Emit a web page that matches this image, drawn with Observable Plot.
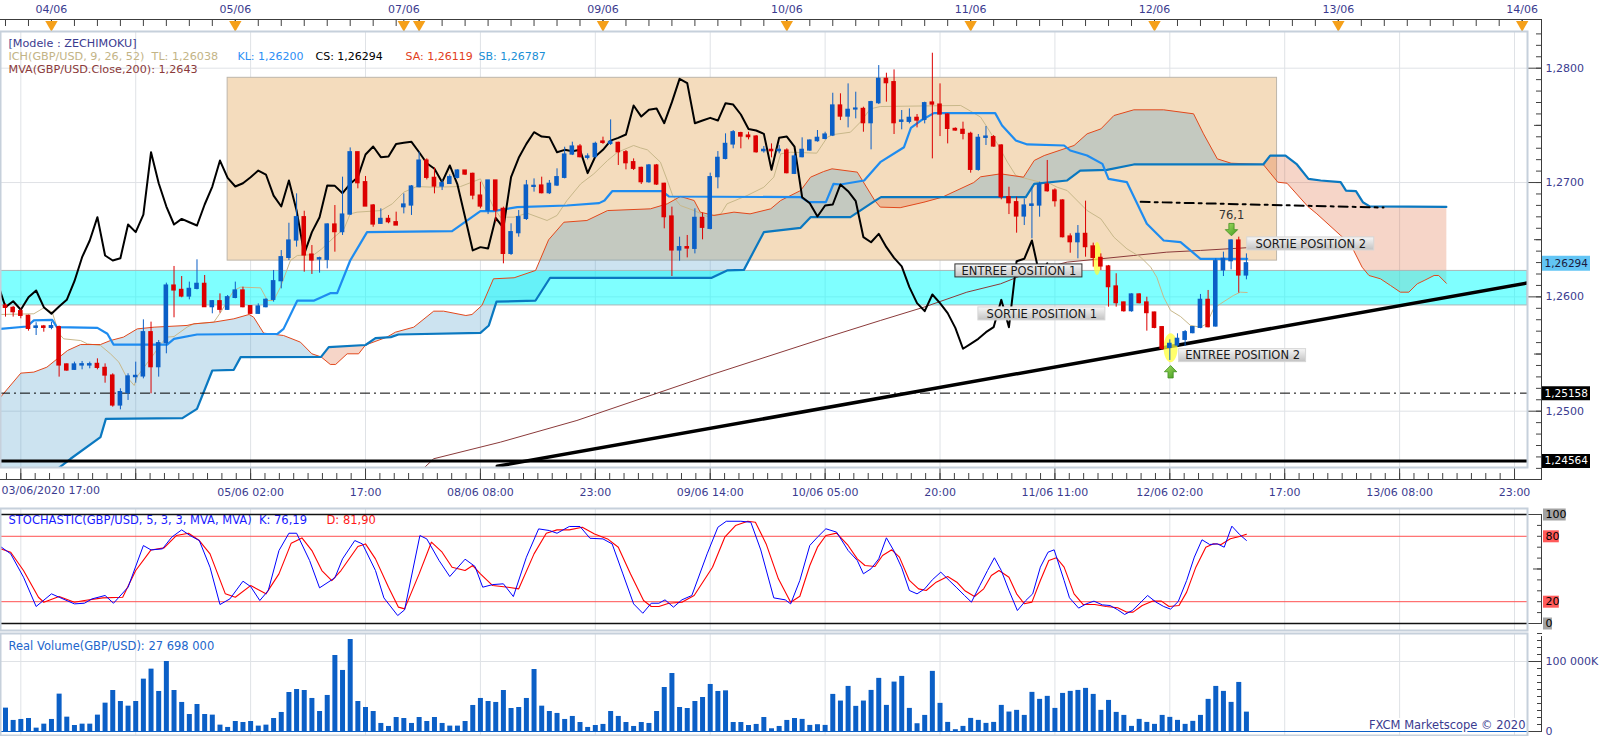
<!DOCTYPE html>
<html><head><meta charset="utf-8">
<script src="https://cdn.jsdelivr.net/npm/d3@7"></script>
<script src="https://cdn.jsdelivr.net/npm/@observablehq/plot@0.6"></script>
<style>
html,body{margin:0;padding:0;background:#fff;overflow:hidden}
#chart{position:relative;width:1599px;height:736px;background:#fff}
#chart svg{position:absolute;left:0}
.ln{position:absolute;background:#3c3c3c}
</style></head><body><div id="chart"></div>
<script>
// ---------------- DATA ----------------
const open = [1.25924,1.25904,1.25875,1.25834,1.25729,1.25741,1.25729,1.25735,1.25409,1.25362,1.25400,1.25400,1.25414,1.25379,1.25312,1.25050,1.25158,1.25298,1.25304,1.25691,1.25385,1.25595,1.26099,1.26061,1.26003,1.26070,1.26114,1.25910,1.25962,1.25887,1.25991,1.26056,1.25919,1.25852,1.25910,1.25974,1.26137,1.26341,1.26493,1.26697,1.26370,1.26327,1.26324,1.26633,1.26566,1.26720,1.27265,1.27003,1.26799,1.26639,1.26682,1.26653,1.26784,1.26799,1.26959,1.27192,1.27041,1.26965,1.26988,1.27041,1.27105,1.27076,1.26886,1.26755,1.27018,1.26770,1.26376,1.26557,1.26682,1.26962,1.26974,1.26907,1.26974,1.27041,1.27245,1.27315,1.27216,1.27222,1.27359,1.27338,1.27347,1.27265,1.27178,1.27128,1.27003,1.27149,1.26989,1.26703,1.26406,1.26435,1.26420,1.26691,1.26595,1.27047,1.27207,1.27333,1.27432,1.27411,1.27402,1.27274,1.27286,1.27274,1.27280,1.27076,1.27222,1.27280,1.27362,1.27382,1.27411,1.27674,1.27577,1.27639,1.27644,1.27519,1.27694,1.27907,1.27878,1.27531,1.27531,1.27566,1.27548,1.27700,1.27682,1.27595,1.27469,1.27461,1.27426,1.27111,1.27391,1.27397,1.27324,1.26872,1.26828,1.26703,1.26796,1.26799,1.26983,1.26930,1.26843,1.26528,1.26478,1.26551,1.26441,1.26341,1.26266,1.26091,1.25951,1.25875,1.26021,1.25951,1.25863,1.25735,1.25554,1.25575,1.25624,1.25683,1.25729,1.25974,1.25741,1.26231,1.26312,1.26493,1.26187];
const high = [1.25939,1.25916,1.25895,1.25840,1.25774,1.25750,1.25779,1.25744,1.25414,1.25429,1.25435,1.25429,1.25458,1.25414,1.25327,1.25196,1.25327,1.25429,1.25799,1.25779,1.25618,1.26120,1.26266,1.26178,1.26129,1.26324,1.26187,1.25968,1.26026,1.26012,1.26129,1.26085,1.25924,1.25939,1.25983,1.26231,1.26405,1.26644,1.26901,1.26749,1.26449,1.26347,1.26639,1.26799,1.27047,1.27303,1.27265,1.27053,1.26808,1.26770,1.26712,1.26741,1.26901,1.26974,1.27265,1.27207,1.27128,1.27018,1.27067,1.27111,1.27105,1.27082,1.27003,1.27018,1.27018,1.26785,1.26639,1.26755,1.27018,1.27032,1.27047,1.27018,1.27120,1.27309,1.27353,1.27333,1.27251,1.27353,1.27397,1.27548,1.27353,1.27280,1.27207,1.27134,1.27158,1.27158,1.26994,1.26785,1.26522,1.26537,1.26770,1.26732,1.27082,1.27271,1.27426,1.27455,1.27440,1.27440,1.27411,1.27315,1.27338,1.27324,1.27295,1.27251,1.27391,1.27373,1.27455,1.27440,1.27781,1.27776,1.27863,1.27790,1.27659,1.27711,1.28023,1.27956,1.27985,1.27630,1.27644,1.27595,1.27703,1.28131,1.27863,1.27601,1.27478,1.27528,1.27440,1.27420,1.27490,1.27411,1.27330,1.26959,1.26872,1.26857,1.26959,1.27003,1.27193,1.26945,1.26849,1.26551,1.26624,1.26837,1.26470,1.26376,1.26275,1.26202,1.25954,1.26027,1.26027,1.25997,1.25866,1.25741,1.25624,1.25677,1.25706,1.25741,1.26021,1.26056,1.26333,1.26391,1.26499,1.26522,1.26376];
const low = [1.25823,1.25823,1.25808,1.25700,1.25662,1.25691,1.25712,1.25298,1.25350,1.25356,1.25362,1.25371,1.25362,1.25245,1.25035,1.25012,1.25094,1.25245,1.25283,1.25152,1.25298,1.25502,1.25817,1.25992,1.25974,1.26061,1.25910,1.25852,1.25857,1.25881,1.25983,1.25904,1.25846,1.25846,1.25904,1.25954,1.26070,1.26318,1.26435,1.26216,1.26196,1.26207,1.26245,1.26391,1.26537,1.26712,1.26945,1.26790,1.26609,1.26633,1.26639,1.26624,1.26726,1.26712,1.26954,1.27023,1.26901,1.26930,1.26983,1.27032,1.27061,1.26849,1.26770,1.26720,1.26653,1.26289,1.26362,1.26522,1.26668,1.26916,1.26901,1.26895,1.26965,1.27032,1.27236,1.27216,1.27198,1.27216,1.27333,1.27324,1.27149,1.27111,1.27105,1.26983,1.26994,1.26974,1.26595,1.26178,1.26312,1.26341,1.26376,1.26499,1.26586,1.26945,1.27198,1.27295,1.27295,1.27373,1.27257,1.27257,1.27216,1.27251,1.27076,1.27070,1.27216,1.27274,1.27353,1.27373,1.27402,1.27542,1.27478,1.27557,1.27440,1.27286,1.27682,1.27703,1.27420,1.27461,1.27513,1.27478,1.27513,1.27207,1.27402,1.27338,1.27449,1.27373,1.27082,1.27099,1.27324,1.27309,1.26849,1.26720,1.26557,1.26624,1.26508,1.26697,1.26916,1.26785,1.26516,1.26382,1.26333,1.26347,1.26260,1.26231,1.25910,1.25910,1.25866,1.25866,1.25939,1.25700,1.25721,1.25531,1.25444,1.25560,1.25566,1.25677,1.25721,1.25729,1.25735,1.26178,1.26236,1.26033,1.26149];
const close = [1.25904,1.25866,1.25834,1.25720,1.25741,1.25729,1.25744,1.25400,1.25356,1.25409,1.25411,1.25411,1.25379,1.25312,1.25050,1.25167,1.25304,1.25309,1.25691,1.25385,1.25595,1.26099,1.26056,1.26003,1.26070,1.26114,1.25910,1.25962,1.25887,1.25997,1.26056,1.25910,1.25852,1.25916,1.25974,1.26137,1.26347,1.26493,1.26697,1.26362,1.26318,1.26338,1.26633,1.26566,1.26720,1.27265,1.26994,1.26790,1.26633,1.26682,1.26653,1.26624,1.26808,1.26965,1.27192,1.27041,1.26965,1.26994,1.27047,1.27105,1.27070,1.26886,1.26790,1.27018,1.26755,1.26376,1.26566,1.26697,1.26974,1.26971,1.26907,1.26989,1.27047,1.27245,1.27315,1.27222,1.27228,1.27338,1.27347,1.27356,1.27265,1.27169,1.27120,1.27003,1.27149,1.26983,1.26697,1.26406,1.26435,1.26423,1.26691,1.26604,1.27047,1.27216,1.27338,1.27440,1.27402,1.27397,1.27265,1.27286,1.27274,1.27286,1.27082,1.27228,1.27286,1.27367,1.27391,1.27420,1.27674,1.27577,1.27636,1.27647,1.27519,1.27703,1.27907,1.27869,1.27519,1.27542,1.27566,1.27542,1.27694,1.27682,1.27595,1.27469,1.27455,1.27426,1.27111,1.27391,1.27402,1.27315,1.26872,1.26819,1.26703,1.26799,1.26808,1.26983,1.26924,1.26837,1.26522,1.26478,1.26551,1.26435,1.26341,1.26266,1.26085,1.25945,1.25875,1.26021,1.25945,1.25858,1.25729,1.25546,1.25589,1.25633,1.25691,1.25735,1.25974,1.25735,1.26312,1.26333,1.26493,1.26187,1.26294];
// real volume, in K
const volume = [33400,15800,17200,18600,4800,10500,17200,53400,20500,8600,10500,10500,23400,40500,58600,42900,36200,42900,74800,89100,57200,100000,58600,41500,24300,38600,24300,23400,9100,5800,14300,12900,14300,7700,9100,18600,27200,55700,60000,58600,47200,28600,51500,108600,87200,131400,42900,34300,28600,11500,7200,20000,18600,11500,20000,14300,20000,11500,7700,7700,14300,37200,47200,42900,41500,58600,32900,34300,47200,88600,36200,28600,25800,17200,21500,12900,5800,8600,10100,28600,21500,12900,7200,12900,11500,28600,62900,82900,34300,32900,42900,48600,67200,57200,58100,12900,12900,8600,10100,20000,3900,7200,15800,18600,17300,8700,9700,8700,53000,43500,64400,35900,43500,58700,75900,37300,70600,78700,33000,11100,23000,85900,40200,13000,2600,7300,18700,15900,11600,13000,37300,27800,30200,23000,55900,45900,50200,33000,54400,57300,58700,61600,53000,30200,44400,27300,23000,7300,17300,13000,10200,23000,20200,15900,10200,14500,23000,45900,64400,57300,41600,70100,27698];
// Ichimoku lines as [bar, price] vertices
const kijun = [[-0.65,1.25720],[2.8,1.25741],[3.7,1.25794],[6.1,1.25799],[6.7,1.25735],[12,1.25729],[13.3,1.25677],[14.1,1.25583],[21.1,1.25583],[22,1.25633],[25,1.25671],[35.5,1.25677],[36.3,1.25720],[38.1,1.25968],[40.3,1.25968],[42.4,1.26032],[43.3,1.26032],[45,1.26318],[47.2,1.26566],[58.3,1.26575],[62,1.26750],[63.7,1.26750],[66.8,1.26785],[73.3,1.26799],[77.5,1.26820],[78.2,1.26843],[79.2,1.26924],[85.7,1.26924],[86.6,1.26878],[103.8,1.26872],[104.9,1.26828],[107.1,1.26828],[108.1,1.26989],[109,1.26983],[112.1,1.27018],[114.2,1.27178],[117.3,1.27309],[118.2,1.27478],[119.5,1.27542],[121.2,1.27607],[129.2,1.27607],[130.1,1.27499],[131.9,1.27367],[133.4,1.27333],[138.2,1.27324],[139,1.27280],[141.2,1.27236],[143.2,1.27163],[144,1.27032],[146.4,1.27003],[149,1.26639],[151.2,1.26493],[153.4,1.26478],[156,1.26333],[162.1,1.26333]];
const tenkan = [[-0.65,1.25846],[3.7,1.25852],[5,1.25904],[6.1,1.25866],[7,1.25677],[7.6,1.25633],[9.8,1.25618],[10.7,1.25589],[12.4,1.25575],[13.7,1.25502],[14.8,1.25429],[15.7,1.25312],[16.8,1.25225],[17.2,1.25304],[18.1,1.25385],[19.4,1.25502],[20.2,1.25583],[21.1,1.25648],[22,1.25653],[23.7,1.25735],[24.6,1.25764],[27.2,1.25779],[28.1,1.25866],[29.8,1.26056],[30.7,1.26085],[33.3,1.26079],[34.2,1.25968],[35,1.25968],[35.9,1.26085],[37.2,1.26318],[38.1,1.26362],[40.3,1.26370],[41.3,1.26420],[42.9,1.26522],[44.2,1.26595],[45,1.26726],[45.9,1.26741],[49,1.26755],[50.5,1.26814],[52,1.26916],[53.7,1.26965],[55.9,1.26959],[59.4,1.26965],[62,1.27032],[63.7,1.26785],[64.6,1.26697],[66.4,1.26697],[68.1,1.26732],[70.7,1.26668],[72,1.26712],[73.3,1.26843],[75.1,1.26989],[76.8,1.27076],[78.6,1.27193],[79.9,1.27265],[82,1.27324],[82.9,1.27303],[83.8,1.27286],[85.5,1.27178],[86.4,1.27018],[87.1,1.26886],[88.1,1.26799],[89.9,1.26755],[91.6,1.26703],[93.4,1.26726],[94.2,1.26814],[96.8,1.26886],[99,1.26959],[100.3,1.27047],[101.2,1.27251],[102.5,1.27265],[105.9,1.27257],[107.3,1.27397],[108.1,1.27420],[110.3,1.27440],[111.6,1.27528],[112.9,1.27644],[114.2,1.27665],[124.7,1.27674],[126,1.27624],[127.3,1.27572],[128.2,1.27478],[129.5,1.27338],[130.8,1.27178],[131.9,1.27061],[133.4,1.27032],[135.1,1.27003],[136.4,1.26989],[137.3,1.26959],[138.6,1.26930],[141.2,1.26755],[143,1.26682],[144.7,1.26522],[146.4,1.26420],[148.2,1.26347],[149.5,1.26260],[150.3,1.26172],[151.2,1.25997],[152.1,1.25881],[153.4,1.25828],[154.7,1.25750],[156,1.25735],[156.8,1.25764],[157.7,1.25895],[158.6,1.25939],[160.3,1.26012],[161.2,1.26041],[162.1,1.26038]];
const senkouA = [[-0.65,1.25123],[2,1.25333],[3.7,1.25342],[5.4,1.25385],[8.1,1.25531],[9.8,1.25583],[12.4,1.25583],[13.7,1.25618],[15.4,1.25648],[17.2,1.25720],[19.4,1.25735],[23.7,1.25750],[24.6,1.25764],[27.2,1.25779],[29.8,1.25808],[31.8,1.25846],[32.4,1.25822],[33.7,1.25683],[36.3,1.25662],[38.5,1.25604],[40,1.25502],[41.2,1.25475],[42.4,1.25409],[43.1,1.25409],[44.6,1.25502],[46.1,1.25502],[47.0,1.25579],[49.8,1.25648],[50.9,1.25691],[53.3,1.25735],[55.9,1.25875],[57.2,1.25875],[60.1,1.25837],[60.9,1.25846],[62.2,1.25925],[63.7,1.26158],[66.4,1.26167],[69.2,1.26231],[70.9,1.26499],[72.9,1.26653],[75.9,1.26668],[78.6,1.26755],[84.2,1.26770],[86.4,1.26814],[88.1,1.26878],[89.9,1.26843],[90.7,1.26741],[92.5,1.26712],[95.1,1.26741],[97.2,1.26726],[99.9,1.26770],[101.2,1.26843],[103.8,1.26930],[105.1,1.27047],[106.8,1.27096],[107.9,1.27120],[111.2,1.27091],[113.5,1.26840],[114.2,1.26785],[116.8,1.26780],[119.9,1.26828],[122.3,1.26872],[126.4,1.27000],[127.3,1.27050],[129.9,1.27076],[132.9,1.27047],[134.3,1.27193],[135.6,1.27236],[139.5,1.27324],[141.2,1.27426],[143,1.27469],[144.7,1.27586],[147.3,1.27636],[151.2,1.27636],[155.1,1.27601],[156.4,1.27426],[158.2,1.27207],[160,1.27169],[164.2,1.27158],[166.1,1.27003],[167.3,1.26994],[170,1.26792],[171.2,1.26726],[174.3,1.26537],[175.6,1.26460],[176,1.26406],[177.1,1.26260],[178,1.26187],[179.5,1.26158],[180.8,1.26100],[182.1,1.26041],[183.2,1.26041],[184.3,1.26114],[185.2,1.26143],[186.5,1.26187],[187.1,1.26187],[188.1,1.26119]];
const senkouB = [[-0.65,1.24250],[6.5,1.24480],[8.5,1.24584],[12.4,1.24773],[13.1,1.24933],[23.1,1.24939],[25,1.25021],[27,1.25356],[29.8,1.25362],[30.7,1.25473],[41.2,1.25475],[42.2,1.25560],[47.0,1.25579],[48.3,1.25639],[50.3,1.25648],[51.3,1.25671],[62,1.25685],[63.1,1.25750],[64.1,1.25958],[69.2,1.25968],[71.1,1.26167],[92.2,1.26167],[94.2,1.26231],[96.4,1.26236],[99,1.26566],[103.8,1.26604],[105.1,1.26697],[110.3,1.26697],[113.5,1.26840],[114.3,1.26872],[122.3,1.26872],[133.2,1.26872],[134.3,1.26989],[138.6,1.27018],[140.3,1.27105],[143.8,1.27111],[147.3,1.27158],[164.2,1.27158],[165.1,1.27236],[167.1,1.27236],[168.6,1.27158],[170.1,1.27032],[171.7,1.27018],[174.3,1.27003],[175,1.26930],[176.3,1.26925],[177.2,1.26828],[178.1,1.26791],[188.1,1.26787]];
// bars where Senkou A and B cross (cloud colour flips)
const cloudTurns = [-0.65, 41.2, 47.0, 113.5, 122.3, 164.2, 188.1];
const mva200 = [[53,1.24400],[55.9,1.24584],[64.6,1.24729],[74.6,1.24919],[92.5,1.25327],[107.3,1.25648],[114.2,1.25793],[119.9,1.25910],[125.5,1.26041],[129.9,1.26114],[134.3,1.26231],[138.6,1.26304],[143,1.26333],[147.3,1.26362],[151.6,1.26391],[156,1.26406],[162.1,1.26430]];
const chikouShift = 26;
// drawings
const trendLine = [[64.2,1.24519],[198.7,1.26122]];
const resistLine = [[148.2,1.26831],[179.9,1.26781]];
const levels = [1.25158, 1.24564];
const lastPrice = [1.26294];
const zone = [{from: 29, to: 166, low: 1.26317, high: 1.27916}];
const band = [{low: 1.25925, high: 1.26227}];
const notes = [
  {label: "ENTREE POSITION 1", i: 132.3, price: 1.26227},
  {label: "SORTIE POSITION 1", i: 135.3, price: 1.25851},
  {label: "ENTREE POSITION 2", i: 161.5, price: 1.25486},
  {label: "SORTIE POSITION 2", i: 170.4, price: 1.26463}
];
const fiboNote = [{label: "76,1", i: 160.05, price: 1.26709}];
const arrowsDown = [{i: 160.05, price: 1.26588}];
const arrowsUp = [{i: 152.1, price: 1.25345}];
const highlightA = [{i: 142.5, price: 1.26336}];
const highlightB = [{i: 152.1, price: 1.25555}];
// stochastic K and D as [bar, value] vertices
const stochK = [[-0.65,70.6],[0.68,63.9],[2.35,42.5],[4.0,15.6],[6.0,27.2],[7.0,24.1],[9.0,18.0],[10.3,18.6],[11.3,22.6],[13,25.7],[14.1,18.6],[16,33.3],[18,71.5],[19,67.5],[20.5,68.5],[21.7,79.2],[23,85.9],[24.1,80.7],[25.3,76.1],[26.7,51.6],[28,17.4],[29.3,22.6],[31,38.8],[32,33.9],[33.2,21.1],[34.3,30.2],[35.7,66.9],[37,82.8],[38,82.8],[39.7,57.8],[41,32.7],[43,41.9],[44,59.3],[45.6,76.1],[46.6,73.0],[48.3,48.6],[49.4,23.5],[51.2,7.3],[52.1,12.5],[54.1,80.7],[55,77.6],[56.6,57.8],[58,43.1],[60,59],[61.3,52.3],[62.3,33.3],[63.6,35.7],[65,36.4],[66.3,24.7],[68,60.8],[69.6,86.8],[71,85.3],[72,82.8],[73.6,89],[75,89],[76.3,78.2],[78,77.6],[79.2,73],[80.6,45.5],[82,18],[83.2,9.4],[84.3,18.6],[85.3,18.6],[86.1,21.7],[87.2,15],[88.3,21.7],[89.6,25.7],[91.6,63.9],[93,88.3],[94.1,93.8],[96,93.8],[97.3,92.9],[98.6,67.5],[100.3,23.5],[101.8,21.7],[102.5,18],[103.7,39.5],[105,71.6],[106,79.2],[107.1,86.9],[108.5,83.8],[110,67],[111.2,57.8],[112,45.6],[113,50.2],[114,59.3],[115,78.6],[116,66.4],[117,51.1],[118,30.3],[119,27.2],[120,31.8],[121,40.1],[122.1,47.1],[123.2,39.5],[124.2,32.7],[125.2,25.7],[126.1,19.6],[127.2,34.9],[128.2,48.6],[129.1,60.3],[130,48.6],[131,30.3],[132.1,11.9],[133.2,21.1],[134.1,27.2],[135.1,51.7],[136.1,65.4],[136.9,67.6],[138.2,39.5],[138.9,23.6],[140.1,14.1],[141.1,18.1],[142.1,20.5],[143.2,17.1],[144.2,16.5],[145.2,12.6],[146.1,8.3],[147.1,11.9],[148.1,18.7],[149.1,25.7],[150.2,19.6],[151.2,15.6],[152.1,13.2],[153.1,20.2],[154.2,39.5],[155.2,60.9],[156.2,76.8],[157.2,72.5],[158.2,73.1],[159.1,70],[160.1,89.3],[161.1,81.7],[162,76.19]];
const stochD = [[-0.65,68.5],[0.68,65.4],[2.35,48.6],[4.3,24.1],[5,19.5],[7,24.7],[9,19.5],[10.3,21.1],[12.7,23.5],[15.3,24.1],[17,48.6],[19,67.5],[20.7,69.4],[22.3,80.7],[23.9,82.8],[25.3,76.1],[26.7,63.9],[28.7,27.2],[30,24.1],[32,34.8],[34,27.2],[35.7,45.5],[37.3,73.7],[38.7,78.5],[40,66.9],[41.3,48.6],[42.6,39.4],[43.8,48.6],[46,70.6],[47,73],[48.3,59.3],[50,33.3],[51.3,15],[52.1,13.4],[54,45.5],[55.6,74.6],[57,65.4],[58.3,51.6],[60,48.6],[61,53.2],[62,45.5],[63.6,34.8],[65.6,33.3],[67,31.8],[69,63.9],[70.6,82.8],[72,85.9],[73.6,85.9],[75.3,88.3],[76.9,82.2],[78.6,77.6],[80,70],[81.6,45.5],[83.3,21.1],[84.3,15.6],[85.3,15.6],[86.6,18.6],[88.3,19.5],[89.9,25.7],[92.3,51.6],[93.9,79.2],[95.3,89.9],[96.9,93.8],[97.9,92.9],[99.3,73],[100.9,41],[102.5,19.5],[103.7,25],[105,53.2],[106,70],[107.1,80.7],[108.5,82.9],[110,71.6],[111.2,59.3],[112.2,53.2],[113.5,52.3],[114.5,62.4],[115.7,67.6],[116.7,60.9],[118,39.5],[119.2,31.8],[120.2,30.3],[121.5,37.9],[123,43.1],[124.2,37.9],[125.2,30.3],[126.5,24.8],[127.7,31.8],[128.7,44.0],[129.7,48.6],[131,42.5],[132,27.2],[133,18.1],[134,19.6],[135.1,39.5],[136.2,57.8],[137.2,60.3],[138.2,51.7],[139.5,27.2],[140.7,17.4],[142.2,17.4],[143.7,15.6],[145.2,14.4],[146.4,10.4],[147.2,10.4],[148.4,16.5],[149.7,20.5],[150.9,20.5],[151.9,15.6],[153.2,16.5],[154.2,28.8],[155.4,51.7],[156.7,70],[157.7,73.1],[158.7,72.5],[159.9,77.7],[161.1,79.8],[162,81.9]];
const stochLevels = [100, 80, 20, 0];
// axis labels
const dayTicks = [6, 30, 52, 54, 78, 102, 126, 150, 174, 198];
const dayLabels = ["04/06", "05/06", "07/06", "", "09/06", "10/06", "11/06", "12/06", "13/06", "14/06"];
const timeTicks = [2, 17, 32, 47, 62, 77, 92, 107, 122, 137, 152, 167, 182, 197];
const timeLabels = ["", "", "05/06 02:00", "17:00", "08/06 08:00", "23:00", "09/06 14:00", "10/06 05:00", "20:00", "11/06 11:00", "12/06 02:00", "17:00", "13/06 08:00", "23:00"];
const firstTimeLabel = "03/06/2020 17:00";
const priceTicks = [1.25, 1.26, 1.27, 1.28];

// ---------------- STYLE / LAYOUT ----------------
const W = 1599, MR = 72;
const xDomain = [-0.6527, 198.695];
const xs = () => ({type: "linear", domain: xDomain, axis: null});
const GRID = "#dfe2e6", FRAME = "#c6d0db", TICK = "#404040", TXT = "#3b3b8f";
const BLUE = "#0b5fc6", RED = "#dc0000";
const baseStyle = {fontFamily: "DejaVu Sans, Verdana, sans-serif", fontSize: "11px", color: TXT, background: "transparent", overflow: "visible"};
const fmtP = (d, n) => d.toFixed(n).replace(".", ",");
const xy = {x: d => d[0], y: d => d[1]};

const candles = open.map((o, i) => ({i, open: o, high: high[i], low: low[i], close: close[i]}));
const bull = candles.filter(d => d.close >= d.open);
const bear = candles.filter(d => d.close < d.open);
const chikou = close.map((c, k) => [k - chikouShift, c]).filter(d => d[0] >= -2);

const cloudMarks = [];
for (let k = 0; k < cloudTurns.length - 1; k++) {
  const a = cloudTurns[k] - 1e-9, b = cloudTurns[k + 1] + 1e-9;
  const top = senkouA.filter(d => d[0] >= a && d[0] <= b);
  const bot = senkouB.filter(d => d[0] >= a && d[0] <= b).reverse();
  const bearish = k % 2 === 1;
  cloudMarks.push(Plot.line(top.concat(bot), {...xy, fill: bearish ? "rgb(220,88,36)" : "rgb(66,152,200)", fillOpacity: bearish ? 0.25 : 0.27, stroke: "none", clip: true}));
}

const arrowSym = dir => ({draw(ctx, size) {
  const s = Math.sqrt(size) / 2, sw = s * 0.42;
  ctx.moveTo(-sw, -s * dir); ctx.lineTo(sw, -s * dir); ctx.lineTo(sw, 0);
  ctx.lineTo(s, 0); ctx.lineTo(0, s * dir); ctx.lineTo(-s, 0); ctx.lineTo(-sw, 0); ctx.closePath();
}});
const ellipseSym = (rx, ry) => ({draw(ctx) {
  const k = 0.5523;
  ctx.moveTo(rx, 0);
  ctx.bezierCurveTo(rx, ry * k, rx * k, ry, 0, ry);
  ctx.bezierCurveTo(-rx * k, ry, -rx, ry * k, -rx, 0);
  ctx.bezierCurveTo(-rx, -ry * k, -rx * k, -ry, 0, -ry);
  ctx.bezierCurveTo(rx * k, -ry, rx, -ry * k, rx, 0);
  ctx.closePath();
}});

const minorPrice = d3.range(1245, 1284).map(k => k / 1000);
const halfPrice = [1.255, 1.265, 1.275];
const top3 = d3.range(0, 199, 3);
const minorTime = d3.range(-1, 106).map(k => 2 + k * 1.875).filter(v => v >= xDomain[0] && v <= xDomain[1]);
const boxLabel = {x1: "i", x2: "i", y1: "price", y2: "price", insetLeft: -63.5, insetRight: -63.5, insetTop: -6.5, insetBottom: -6.5};
const legendLine = (text, dx, dy, fill, fontSize = 11.5) => Plot.text([text], {frameAnchor: "top-left", dx, dy, textAnchor: "start", fill, fontSize});

// ---------------- PRICE PANEL ----------------
const price = Plot.plot({
  width: W, height: 505, marginLeft: 0, marginRight: MR, marginTop: 31, marginBottom: 38,
  x: xs(), y: {domain: [1.245076, 1.28321], axis: null},
  style: baseStyle,
  marks: [
    Plot.ruleX(timeTicks, {stroke: GRID}),
    Plot.ruleY(priceTicks, {stroke: GRID}),
    Plot.rect(zone, {x1: "from", x2: "to", y1: "low", y2: "high", fill: "#f4dcbd", stroke: "#bdb6ab"}),
    ...cloudMarks,
    Plot.rect(band, {x1: () => xDomain[0], x2: () => xDomain[1], y1: "low", y2: "high", fill: "#00ffff", fillOpacity: 0.5, stroke: "#aab6b8"}),
    Plot.line(mva200, {...xy, stroke: "#8b3a3a", strokeWidth: 1, clip: true}),
    Plot.line(tenkan, {...xy, stroke: "#c8b88a", strokeWidth: 1, clip: true}),
    Plot.line(senkouA, {...xy, stroke: "#e2481c", strokeWidth: 1, clip: true}),
    Plot.line(senkouB, {...xy, stroke: "#0a78c0", strokeWidth: 2.2, clip: true}),
    Plot.line(kijun, {...xy, stroke: "#1e8cf0", strokeWidth: 2.2, clip: true}),
    Plot.ruleY([levels[1]], {stroke: "#000", strokeWidth: 3}),
    Plot.ruleY([levels[0]], {stroke: "#000", strokeWidth: 1, strokeDasharray: "10,4,2,4"}),
    Plot.line(resistLine, {...xy, stroke: "#000", strokeWidth: 2, strokeDasharray: "9,5,3,5"}),
    Plot.line(trendLine, {...xy, stroke: "#000", strokeWidth: 3.5, clip: true}),
    Plot.line(chikou, {...xy, stroke: "#000", strokeWidth: 2, clip: true}),
    Plot.dot(highlightA, {x: "i", y: "price", symbol: ellipseSym(4, 16.5), fill: "#ffff3a", fillOpacity: 0.75, stroke: "none"}),
    Plot.dot(highlightB, {x: "i", y: "price", symbol: ellipseSym(7, 14.5), fill: "#ffff3a", fillOpacity: 0.75, stroke: "none"}),
    Plot.ruleX(bull, {x: "i", y1: "low", y2: "high", stroke: BLUE, strokeWidth: 1}),
    Plot.ruleX(bear, {x: "i", y1: "low", y2: "high", stroke: RED, strokeWidth: 1}),
    Plot.rect(bull, {x1: d => d.i - 0.3, x2: d => d.i + 0.3, y1: "open", y2: "close", fill: BLUE, insetTop: -0.6, insetBottom: -0.6}),
    Plot.rect(bear, {x1: d => d.i - 0.3, x2: d => d.i + 0.3, y1: "open", y2: "close", fill: RED, insetTop: -0.6, insetBottom: -0.6}),
    // annotations
    Plot.rect(notes.slice(0, 1), {...boxLabel, fill: "url(#lblgrad)", stroke: "#303030"}),
    Plot.rect(notes.slice(1), {...boxLabel, fill: "url(#lblgrad)", stroke: "#d6d6d6"}),
    Plot.text(notes, {x: "i", y: "price", text: "label", fill: "#1a1a1a", fontSize: 11.5}),
    Plot.text(fiboNote, {x: "i", y: "price", text: "label", fill: "#333", fontSize: 11.5}),
    Plot.dot(arrowsDown, {x: "i", y: "price", symbol: arrowSym(1), r: 7, fill: "url(#arrgrad)", stroke: "#3f8f1f", strokeWidth: 0.8}),
    Plot.dot(arrowsUp, {x: "i", y: "price", symbol: arrowSym(-1), r: 7, fill: "url(#arrgrad)", stroke: "#3f8f1f", strokeWidth: 0.8}),
    // legend
    legendLine("[Modele : ZECHIMOKU]", 8, 8, "#3b3b8f", 11.2),
    legendLine("ICH(GBP/USD, 9, 26, 52)  TL: 1,26038", 8, 21, "#c3b486", 11.2),
    legendLine("KL: 1,26200", 237, 21, "#2b8ef5", 11),
    legendLine("CS: 1,26294", 315, 21, "#000", 11),
    legendLine("SA: 1,26119", 405, 21, "#e2401c", 11),
    legendLine("SB: 1,26787", 478, 21, "#1a8fd6", 11),
    legendLine("MVA(GBP/USD.Close,200): 1,2643", 8, 34, "#8b3a3a", 11.2),
    // right price axis
    Plot.axisY({anchor: "right", ticks: priceTicks, tickSize: 14, tickPadding: 4, tickFormat: d => fmtP(d, 4), stroke: TICK, fill: TXT, fontSize: 11}),
    Plot.axisY({anchor: "right", ticks: halfPrice, tickSize: 8, dx: 6, tickFormat: () => "", stroke: TICK}),
    Plot.axisY({anchor: "right", ticks: minorPrice, tickSize: 6, dx: 8, tickFormat: () => "", stroke: TICK}),
    Plot.ruleY(lastPrice, {insetLeft: 1542, insetRight: -63, stroke: "#62c5f5", strokeWidth: 15}),
    Plot.text(lastPrice, {y: d => d, text: d => fmtP(d, 5), frameAnchor: "right", dx: 17, textAnchor: "start", fill: "#1a1a40", fontSize: 10.5}),
    Plot.ruleY(levels, {insetLeft: 1542, insetRight: -63, stroke: "#000", strokeWidth: 14}),
    Plot.text(levels, {y: d => d, text: d => fmtP(d, 5), frameAnchor: "right", dx: 17, textAnchor: "start", fill: "#fff", fontSize: 10.5}),
    // top date axis
    Plot.axisX({anchor: "top", ticks: top3, tickSize: 6, dy: -6, tickFormat: () => "", stroke: TICK}),
    Plot.axisX({anchor: "top", ticks: dayTicks, tickSize: 12, tickPadding: 7, tickFormat: d => dayLabels[dayTicks.indexOf(d)], stroke: TICK, fill: TXT, fontSize: 11}),
    Plot.dot(dayTicks, {x: d => d, frameAnchor: "top", dy: -7, symbol: "triangle", r: 4.6, fill: "#f5a01a", rotate: 180}),
    // bottom time axis
    Plot.axisX({anchor: "bottom", ticks: minorTime, tickSize: 6, dy: 6, tickFormat: () => "", stroke: TICK}),
    Plot.axisX({anchor: "bottom", ticks: timeTicks, tickSize: 12, tickPadding: 9, tickFormat: d => timeLabels[timeTicks.indexOf(d)], stroke: TICK, fill: TXT, fontSize: 11}),
    Plot.text([firstTimeLabel], {frameAnchor: "bottom-left", dx: 1, dy: 26, textAnchor: "start", fill: TXT, fontSize: 11}),
    Plot.frame({stroke: FRAME, strokeWidth: 2})
  ]
});

// ---------------- STOCHASTIC PANEL ----------------
const stoch = Plot.plot({
  width: W, height: 127, marginLeft: 0, marginRight: MR, marginTop: 3, marginBottom: 2,
  x: xs(), y: {domain: [-6.42, 105.5], axis: null},
  style: baseStyle,
  marks: [
    Plot.ruleX(timeTicks, {stroke: GRID}),
    Plot.ruleY([80, 20], {stroke: "#ff5050", strokeWidth: 1}),
    Plot.line(stochD, {...xy, stroke: "#ff0000", strokeWidth: 1.1}),
    Plot.line(stochK, {...xy, stroke: "#0000ff", strokeWidth: 1}),
    Plot.text(["STOCHASTIC(GBP/USD, 5, 3, 3, MVA, MVA)  K: 76,19"], {frameAnchor: "top-left", dx: 8, dy: 7, textAnchor: "start", fill: "#1a1aff", fontSize: 11.5}),
    Plot.text(["D: 81,90"], {frameAnchor: "top-left", dx: 326, dy: 7, textAnchor: "start", fill: "#ff1a1a", fontSize: 11.5}),
    Plot.ruleY([100, 0], {stroke: "#111", strokeWidth: 1.3}),
    Plot.axisY({anchor: "right", ticks: [0, 100], tickSize: 14, tickFormat: () => "", stroke: TICK}),
    Plot.axisY({anchor: "right", ticks: [50], tickSize: 9, dx: 5, tickFormat: () => "", stroke: TICK}),
    Plot.axisY({anchor: "right", ticks: d3.range(10, 100, 10), tickSize: 5, dx: 9, tickFormat: () => "", stroke: TICK}),
    ...stochLevels.map(v => Plot.ruleY([v], {insetLeft: 1543, insetRight: -(18 + String(v).length * 6.9), stroke: (v === 0 || v === 100) ? "#a2a2a2" : "#ff5a5a", strokeWidth: 12})),
    Plot.text(stochLevels, {y: d => d, text: d => String(d), frameAnchor: "right", dx: 18, textAnchor: "start", fill: "#000", fontSize: 11}),
    Plot.frame({stroke: FRAME, strokeWidth: 2})
  ]
});

// ---------------- VOLUME PANEL ----------------
const vol = Plot.plot({
  width: W, height: 104, marginLeft: 0, marginRight: MR, marginTop: 1, marginBottom: 1,
  x: xs(), y: {domain: [-5714, 140000], axis: null},
  style: baseStyle,
  marks: [
    Plot.ruleX(timeTicks, {stroke: GRID}),
    Plot.ruleY([100000], {stroke: GRID}),
    Plot.ruleY([0], {stroke: BLUE, strokeWidth: 1}),
    Plot.ruleX(volume, {x: (d, i) => i, y1: 0, y2: d => d, stroke: BLUE, strokeWidth: 5}),
    Plot.text(["Real Volume(GBP/USD): 27 698 000"], {frameAnchor: "top-left", dx: 8, dy: 8, textAnchor: "start", fill: "#2266cc", fontSize: 11.5}),
    Plot.text(["FXCM Marketscope © 2020"], {frameAnchor: "bottom-right", dx: -2, dy: -7, textAnchor: "end", fill: TXT, fontSize: 11.5, stroke: "#fff", strokeWidth: 4, paintOrder: "stroke"}),
    Plot.axisY({anchor: "right", ticks: [0, 100000], tickSize: 14, tickPadding: 4, tickFormat: d => d === 0 ? "0" : "100 000K", stroke: TICK, fill: TXT, fontSize: 11}),
    Plot.axisY({anchor: "right", ticks: d3.range(10000, 140001, 10000).filter(v => v !== 100000), tickSize: 5, dx: 9, tickFormat: () => "", stroke: TICK}),
    Plot.frame({stroke: FRAME, strokeWidth: 2})
  ]
});

// ---------------- ASSEMBLY ----------------
const root = document.getElementById("chart");
const ns = "http://www.w3.org/2000/svg";
const defs = document.createElementNS(ns, "defs");
defs.innerHTML = '<linearGradient id="lblgrad" x1="0" y1="0" x2="0" y2="1"><stop offset="0" stop-color="#f7f7f7"/><stop offset="1" stop-color="#c2c2c2"/></linearGradient>' +
  '<linearGradient id="arrgrad" x1="0" y1="0" x2="1" y2="1"><stop offset="0" stop-color="#a6de62"/><stop offset="1" stop-color="#3f9a1f"/></linearGradient>';
price.insertBefore(defs, price.firstChild);
price.style.top = "0px"; stoch.style.top = "505px"; vol.style.top = "632px";
root.append(price, stoch, vol);
const line = (l, t, w, h) => { const d = document.createElement("div"); d.className = "ln"; Object.assign(d.style, {left: l + "px", top: t + "px", width: w + "px", height: h + "px"}); root.append(d); };
line(0, 19, 1542, 1);
line(1541, 19, 1, 461);
line(0, 479, 1542, 1);
line(1541, 514, 1, 110);
line(1541, 636, 1, 96);
</script></body></html>
